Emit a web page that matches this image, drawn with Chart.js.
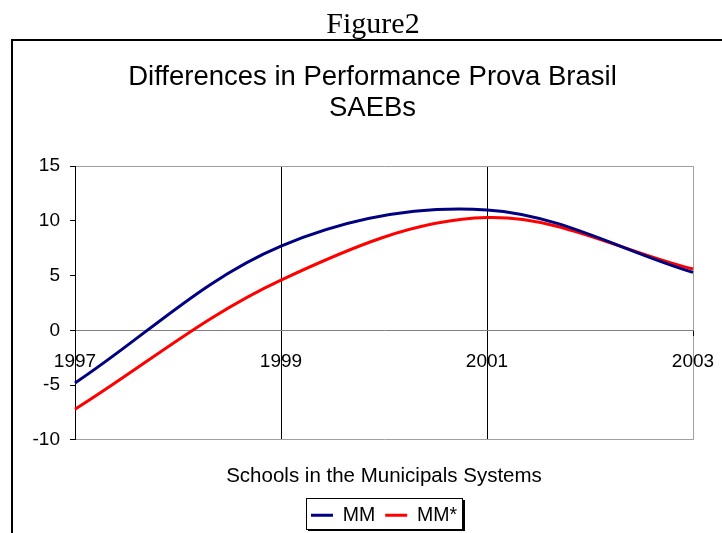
<!DOCTYPE html>
<html>
<head>
<meta charset="utf-8">
<script src="https://cdn.jsdelivr.net/npm/chart.js@4.4.1/dist/chart.umd.min.js"></script>
<style>
  html, body { margin: 0; padding: 0; background: #fff; overflow: hidden; }
  canvas { display: block; }
</style>
</head>
<body>
<canvas id="fig2" width="722" height="533"></canvas>
<script>
// data
const years = ['1997', '1999', '2001', '2003'];
const mm = [-4.8, 7.7, 11.0, 5.3];
const mmStar = [-7.2, 4.6, 10.3, 5.6];
const yTicks = [-10, -5, 0, 5, 10, 15];

const chartTitle = ['Differences in Performance Prova Brasil', 'SAEBs'];
const xTitle = 'Schools in the Municipals Systems';

Chart.defaults.font.family = "'Liberation Sans', Arial, sans-serif";
Chart.defaults.color = '#000';

// outer frame, "Figure2" caption and the boxed legend
const framePlugin = {
  id: 'framePlugin',
  afterLayout(chart) {
    // the Excel title sits a bit right of the canvas centre
    if (chart.titleBlock) {
      chart.titleBlock.left = 52;
      chart.titleBlock.right = 693;
    }
  },
  beforeDraw(chart) {
    const ctx = chart.ctx;
    ctx.save();
    ctx.fillStyle = '#fff';
    ctx.fillRect(0, 0, chart.width, chart.height);
    ctx.strokeStyle = '#000';
    ctx.lineWidth = 2;
    ctx.strokeRect(12, 40, 740, 540);
    ctx.font = "30px 'Liberation Serif', 'Times New Roman', serif";
    ctx.fillStyle = '#000';
    ctx.textAlign = 'center';
    ctx.textBaseline = 'alphabetic';
    ctx.fillText('Figure2', 373, 33);
    ctx.restore();
  },
  afterDraw(chart) {
    const boxes = chart.legend && chart.legend.legendHitBoxes;
    if (!boxes || !boxes.length) return;
    const left = Math.min(...boxes.map(b => b.left)) - 5;
    const right = Math.max(...boxes.map(b => b.left + b.width)) + 5;
    const top = Math.min(...boxes.map(b => b.top)) - 8;
    const bottom = Math.max(...boxes.map(b => b.top + b.height)) + 3;
    const ctx = chart.ctx;
    ctx.save();
    ctx.strokeStyle = '#000';
    ctx.lineWidth = 1;
    ctx.strokeRect(Math.round(left) + 0.5, Math.round(top) + 0.5, Math.round(right - left), Math.round(bottom - top));
    ctx.fillStyle = '#000';
    ctx.fillRect(Math.round(left) + 2, Math.round(bottom) + 1, Math.round(right - left), 2);
    ctx.fillRect(Math.round(right) + 1, Math.round(top) + 2, 2, Math.round(bottom - top));
    ctx.restore();
  }
};

new Chart(document.getElementById('fig2'), {
  type: 'line',
  data: {
    labels: years,
    datasets: [
      {
        label: 'MM',
        data: mm,
        borderColor: '#000080',
        backgroundColor: '#000080',
        borderWidth: 3,
        pointRadius: 0,
        tension: 0.35,
        fill: false
      },
      {
        label: 'MM*',
        data: mmStar,
        borderColor: '#ff0000',
        backgroundColor: '#ff0000',
        borderWidth: 3,
        pointRadius: 0,
        tension: 0.35,
        fill: false
      }
    ]
  },
  options: {
    responsive: false,
    animation: false,
    layout: {
      padding: { left: 11, right: 29, top: 50, bottom: -2 }
    },
    plugins: {
      tooltip: { enabled: false },
      title: {
        display: true,
        text: chartTitle,
        font: { size: 27.5, weight: 'normal', lineHeight: 1.13 },
        padding: { top: 12, bottom: 42 }
      },
      subtitle: {
        display: true,
        position: 'bottom',
        fullSize: false,
        text: xTitle,
        font: { size: 20.5, weight: 'normal', lineHeight: 1.2 },
        padding: { top: 24, bottom: 7 }
      },
      legend: {
        position: 'bottom',
        fullSize: false,
        weight: 2000,
        labels: {
          usePointStyle: true,
          pointStyle: 'line',
          pointStyleWidth: 22,
          font: { size: 19.5 },
          padding: 10
        }
      }
    },
    scales: {
      x: {
        position: { y: 0 },
        offset: false,
        afterFit: (s) => { s.paddingLeft = 0; s.paddingRight = 0; },
        grid: {
          color: (c) => (c.index === 3 ? '#a0a0a0' : '#000'),
          tickColor: '#000',
          tickLength: 5,
          lineWidth: 1
        },
        border: { color: '#808080', width: 1 },
        ticks: {
          font: { size: 19 },
          padding: 15,
          maxRotation: 0,
          autoSkip: false
        }
      },
      y: {
        min: -10,
        max: 15,
        afterBuildTicks: (s) => { s.ticks = yTicks.map(v => ({ value: v })); },
        afterFit: (s) => { s.width = 64; },
        grid: {
          color: (c) => (c.tick && (c.tick.value === 15 || c.tick.value === -10) ? '#a0a0a0' : 'rgba(0,0,0,0)'),
          tickColor: '#000',
          tickLength: 5
        },
        border: { color: '#000', width: 1 },
        ticks: {
          font: { size: 19 },
          padding: 10
        }
      }
    }
  },
  plugins: [framePlugin]
});
</script>
</body>
</html>
